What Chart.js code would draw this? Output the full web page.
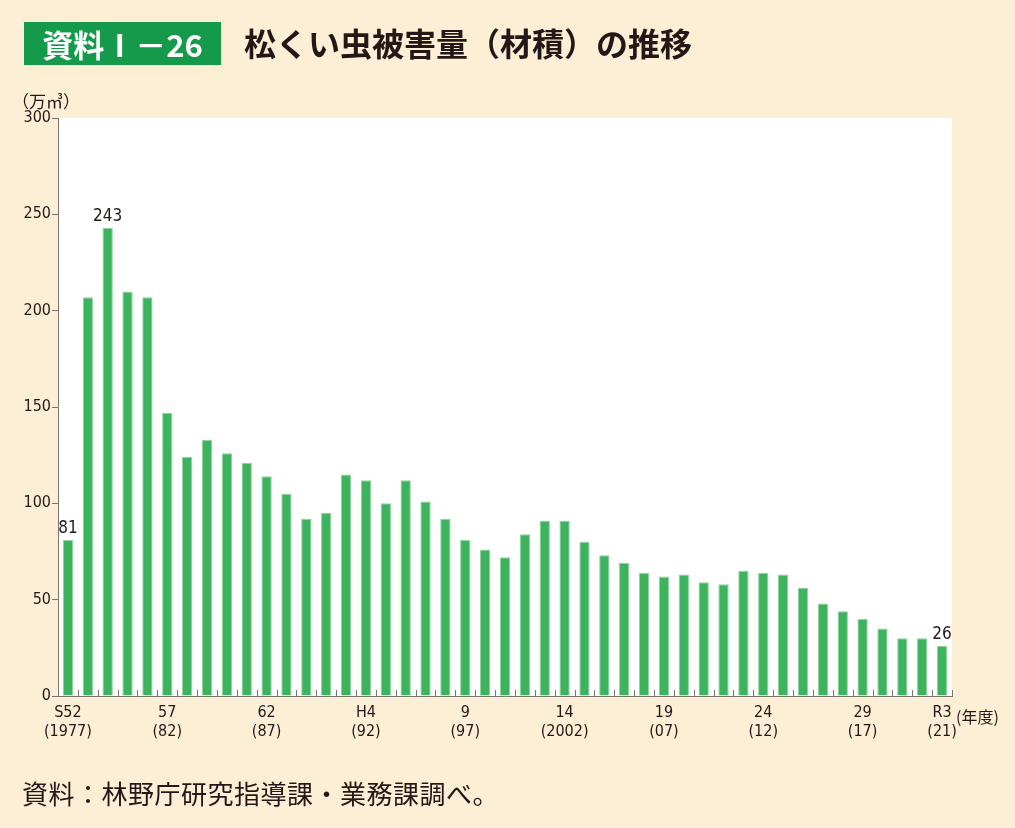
<!DOCTYPE html>
<html><head><meta charset="utf-8">
<script src="https://cdn.jsdelivr.net/npm/chart.js@4.4.1/dist/chart.umd.min.js"></script>
<style>
html,body{margin:0;padding:0;background:#fdefd6;}
#wrap{position:relative;width:1015px;height:828px;overflow:hidden;background:#fdefd6;}
#c{position:absolute;left:0;top:0;}
.t{position:absolute;white-space:nowrap;font-family:"Noto Sans CJK JP","Noto Sans",sans-serif;color:#231815;}
#badge{left:24px;top:22px;width:197px;height:43px;background:#15994a;color:#fff;font-weight:bold;font-size:31px;line-height:43px;text-align:center;}
#title{left:244px;top:21px;font-weight:bold;font-size:32px;line-height:43px;letter-spacing:0px;}
#unit{left:12px;top:88px;font-size:17px;}
#nendo{left:956px;top:704px;font-size:16px;}
#src{left:22px;top:775px;font-size:26px;line-height:36px;letter-spacing:0.5px;}
</style></head>
<body><div id="wrap">
<canvas id="c" width="1015" height="828"></canvas>
<div class="t" id="badge">資料Ⅰ－26</div>
<div class="t" id="title">松くい虫被害量（材積）の推移</div>
<div class="t" id="unit">（万㎥）</div>
<div class="t" id="nendo">(年度)</div>
<div class="t" id="src">資料：林野庁研究指導課・業務課調べ。</div>
</div>
<script>
const years = [1977,1978,1979,1980,1981,1982,1983,1984,1985,1986,1987,1988,1989,1990,1991,1992,1993,1994,1995,1996,1997,1998,1999,2000,2001,2002,2003,2004,2005,2006,2007,2008,2009,2010,2011,2012,2013,2014,2015,2016,2017,2018,2019,2020,2021];
const damage = [81,207,243,210,207,147,124,133,126,121,114,105,92,95,115,112,100,112,101,92,81,76,72,84,91,91,80,73,69,64,62,63,59,58,65,64,63,56,48,44,40,35,30,30,26];
const tickLabels = {0:["S52","(1977)"],5:["57","(82)"],10:["62","(87)"],15:["H4","(92)"],20:["9","(97)"],25:["14","(2002)"],30:["19","(07)"],35:["24","(12)"],40:["29","(17)"],44:["R3","(21)"]};
const labelledBars = [0,2,44];
const yTicks = [0,50,100,150,200,250,300];

const FONT = "'DejaVu Sans Condensed','Liberation Sans Narrow','Liberation Sans',sans-serif";
const AXIS = '#7a7370';

const chartBg = {
  id:'chartBg',
  beforeDraw(chart){
    const {ctx, chartArea:a} = chart;
    ctx.save(); ctx.fillStyle='#ffffff';
    ctx.fillRect(a.left, a.top, a.right-a.left, a.bottom-a.top);
    ctx.restore();
  }
};
const extras = {
  id:'extras',
  afterDatasetsDraw(chart){
    const {ctx, chartArea:a} = chart;
    const xs = chart.scales.x;
    ctx.save();
    ctx.strokeStyle = AXIS; ctx.lineWidth = 1;
    for(let i=0;i<=years.length;i++){
      let x;
      if(i===0) x = xs.getPixelForValue(0) - (xs.getPixelForValue(1)-xs.getPixelForValue(0))/2;
      else if(i===years.length) x = xs.getPixelForValue(i-1) + (xs.getPixelForValue(1)-xs.getPixelForValue(0))/2;
      else x = (xs.getPixelForValue(i-1)+xs.getPixelForValue(i))/2;
      x = Math.round(x)+0.5;
      ctx.beginPath(); ctx.moveTo(x, a.bottom); ctx.lineTo(x, a.bottom-6); ctx.stroke();
    }
    const meta = chart.getDatasetMeta(0);
    ctx.fillStyle = '#231815';
    ctx.font = "17px " + FONT;
    ctx.textAlign='center'; ctx.textBaseline='bottom';
    labelledBars.forEach(i=>{
      const el = meta.data[i];
      ctx.fillText(String(damage[i]), el.x, el.y-3);
    });
    ctx.restore();
  }
};

new Chart(document.getElementById('c'), {
  type:'bar',
  data:{ labels: years.map(String), datasets:[{
    data: damage,
    backgroundColor:'#3db35e',
    borderColor:'#8fd4a0',
    borderWidth:{top:1,left:1,right:1,bottom:0},
    barPercentage:0.52,
    categoryPercentage:1.0
  }]},
  options:{
    responsive:false, animation:false,
    layout:{padding:{left:0,top:118,right:63,bottom:80}},
    plugins:{legend:{display:false},tooltip:{enabled:false}},
    scales:{
      x:{
        offset:true,
        grid:{display:false, drawTicks:false},
        border:{display:true,color:AXIS,width:1},
        ticks:{autoSkip:false,maxRotation:0,minRotation:0,padding:7,color:'#231815',
          font:{family:FONT,size:16,lineHeight:1.2},
          callback:(v,i)=> tickLabels[i] || ''},
        afterFit:s=>{s.height=52;}
      },
      y:{
        min:0,max:300,
        afterBuildTicks:s=>{s.ticks = yTicks.map(v=>({value:v}));},
        grid:{display:true,drawOnChartArea:false,drawTicks:true,tickLength:6,color:AXIS},
        border:{display:true,color:AXIS,width:1},
        ticks:{padding:1,color:'#231815',font:{family:FONT,size:16}},
        afterFit:s=>{s.width=58;}
      }
    }
  },
  plugins:[chartBg, extras]
});
</script>
</body></html>
